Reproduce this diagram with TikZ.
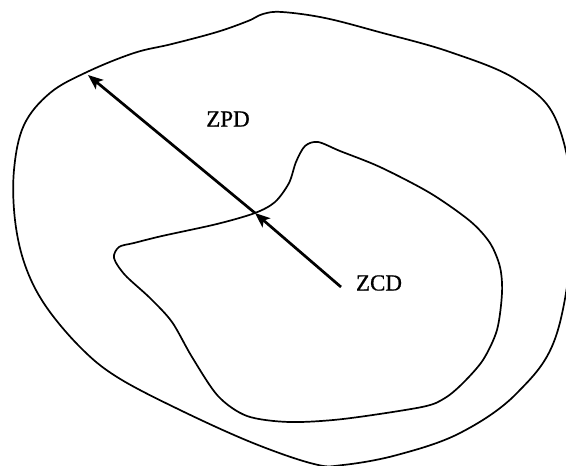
\documentclass[tikz,border=0pt]{standalone}
\usepackage{fontspec}
\setmainfont{Liberation Serif}
\newfontfamily\lblfont{Liberation Serif}[FakeBold=0.7]
\usetikzlibrary{arrows.meta}
\begin{document}
\begin{tikzpicture}[x=1pt,y=-1pt,
  region/.style={draw=black,line width=1.7pt},
  vec/.style={draw=black,line width=2.7pt,-{Stealth[length=15pt,width=12pt,inset=3.5pt]}},
  lbl/.style={font=\lblfont\fontsize{23}{26}\selectfont,inner sep=0pt}]
\useasboundingbox (0,0) rectangle (566,466);
\clip (0,0) rectangle (566,466);
% outer region (ZPD)
\draw[region] plot[smooth cycle,tension=0.6] coordinates {
 (263,14) (282,12) (325,18) (379,32) (450,52) (517,80)
 (557,122) (573,215) (557,333) (517,393)
 (460,433) (397,455) (343,465) (314,464) (253,443) (180,410)
 (117,377) (80,347) (45,305) (25,265) (15,220) (14,170)
 (24,125) (50,93) (87,72) (134,53) (172,44) (217,32) (248,21)};
% inner region (ZCD)
\draw[region] plot[smooth cycle,tension=0.5] coordinates {
 (318,142) (340,151) (380,167) (430,193) (470,221) (490,243) (500,267)
 (502,293) (497,330) (483,360) (463,383) (445,398) (422,407) (343,419)
 (289,422) (247,416) (218,396) (192,357) (172,322) (150,298) (125,275)
 (114,258) (119,247) (134,243) (162,236) (217,224) (255,213) (275,202)
 (289,183) (296,162) (305,146)};
\coordinate (zcdpt) at (341,287);
\coordinate (midpt) at (255,213);
\coordinate (tippt) at (88,75);
\draw[vec] (zcdpt) -- (midpt);
\draw[vec] (midpt) -- (tippt);
\node[lbl] (zpd) at (228,119) {ZPD};
\node[lbl] (zcd) at (379,283) {ZCD};
\end{tikzpicture}
\end{document}
